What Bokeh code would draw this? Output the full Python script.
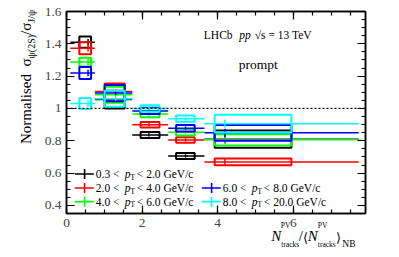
import math
from bokeh.plotting import figure
from bokeh.models import (Range1d, LinearAxis, SingleIntervalTicker, Label,
                          BoxAnnotation, Span, ColumnDataSource,
                          CustomJSTickFormatter, Div)
from bokeh.layouts import column
from bokeh.embed import file_html
from bokeh.resources import INLINE

# ---------------- data ----------------
pt_lo = ["0.3", "2.0", "4.0", "6.0", "8.0"]
pt_hi = ["2.0", "4.0", "6.0", "8.0", "20.0"]
colors = ["#000000", "#ff0000", "#00ff00", "#0000ff", "#00ffff"]

# multiplicity bins (x)
x_lo = [0.10, 0.75, 1.74, 2.69, 3.65]
x_hi = [0.75, 1.74, 2.69, 3.65, 7.73]
x_mean = [0.57, 1.30, 2.18, 3.15, 4.19]
box_lo = [0.34, 1.01, 1.96, 2.90, 3.92]
box_hi = [0.65, 1.54, 2.46, 3.39, 5.95]

# normalised ratio per pT bin
ratio_0 = [1.410, 1.055, 0.836, 0.706, 0.810]
ratio_1 = [1.372, 1.105, 0.899, 0.805, 0.669]
ratio_2 = [1.287, 1.085, 0.965, 0.853, 0.806]
ratio_3 = [1.220, 1.095, 0.985, 0.878, 0.849]
ratio_4 = [1.031, 1.060, 1.000, 0.937, 0.906]

syst_0 = [0.035, 0.055, 0.019, 0.018, 0.053]
syst_1 = [0.037, 0.050, 0.017, 0.017, 0.021]
syst_2 = [0.027, 0.050, 0.020, 0.020, 0.035]
syst_3 = [0.037, 0.050, 0.020, 0.020, 0.049]
syst_4 = [0.034, 0.050, 0.020, 0.020, 0.055]

stat_all = [0.020, 0.012, 0.010, 0.010, 0.025]

ratios = [ratio_0, ratio_1, ratio_2, ratio_3, ratio_4]
systs = [syst_0, syst_1, syst_2, syst_3, syst_4]

# ---------------- figure ----------------
FONT = "Liberation Serif"
W, H = 389, 247
p = figure(width=W, height=H, output_backend="svg", toolbar_location=None,
           x_range=Range1d(0, 7.91), y_range=Range1d(0.35, 1.6),
           min_border_left=66, min_border_right=24, min_border_top=11,
           min_border_bottom=34)
p.grid.visible = False
p.outline_line_color = "black"
p.outline_line_width = 1.5
p.background_fill_color = "white"
p.border_fill_color = "white"

p.xaxis.ticker = SingleIntervalTicker(interval=2, num_minor_ticks=4)
p.yaxis.ticker = SingleIntervalTicker(interval=0.2, num_minor_ticks=4)


def style_axis(ax, labels=True):
    ax.major_tick_in = 8
    ax.major_tick_out = 0
    ax.minor_tick_in = 4
    ax.minor_tick_out = 0
    ax.axis_line_width = 1.5
    ax.major_tick_line_width = 1.2
    ax.minor_tick_line_width = 1.2
    ax.major_label_text_font = FONT
    ax.major_label_text_font_size = "13.5px"
    ax.major_label_standoff = 5 if labels else 0
    ax.axis_label = None
    if not labels:
        ax.formatter = CustomJSTickFormatter(code="return ''")


style_axis(p.xaxis[0])
style_axis(p.yaxis[0])
p.yaxis[0].major_label_overrides = {1.0: "1"}

top = LinearAxis(ticker=SingleIntervalTicker(interval=2, num_minor_ticks=4))
style_axis(top, labels=False)
p.add_layout(top, "above")
right = LinearAxis(ticker=SingleIntervalTicker(interval=0.2, num_minor_ticks=4))
style_axis(right, labels=False)
p.add_layout(right, "right")

# reference line at 1
p.add_layout(Span(location=1.0, dimension="width", line_color="black",
                  line_dash="2 2", line_width=1.3))

# ---------------- marks ----------------
for i in range(5):
    c = colors[i]
    y = ratios[i]
    s = systs[i]
    src = ColumnDataSource(dict(
        xl=x_lo, xh=x_hi, xm=x_mean, bl=box_lo, bh=box_hi, y=y,
        sb=[a - b for a, b in zip(y, s)], st=[a + b for a, b in zip(y, s)],
        eb=[a - b for a, b in zip(y, stat_all)],
        et=[a + b for a, b in zip(y, stat_all)],
    ))
    p.quad(left="bl", right="bh", bottom="sb", top="st", source=src,
           fill_color=None, line_color=c, line_width=2)
    p.segment(x0="xl", x1="xh", y0="y", y1="y", source=src,
              line_color=c, line_width=1.5)
    p.segment(x0="xm", x1="xm", y0="eb", y1="et", source=src,
              line_color=c, line_width=1.5)


# ---------------- annotations (image pixel -> data) ----------------
def dx(px):
    return (px - 67.7) / 37.8


def dy(py):
    return 1 - (py - 109) / 159


def lab(px, py, text, size, style="normal", align="left",
        baseline="middle", angle=0.0):
    p.add_layout(Label(x=dx(px), y=dy(py), text=text, text_font=FONT,
                       text_font_size=size, text_font_style=style,
                       text_align=align, text_baseline=baseline,
                       angle=angle, text_color="black"))


# top-right texts
lab(205, 37, "LHCb", "11.5px")
lab(240.5, 37, "pp", "11.5px", style="italic")
lab(256, 37, "\u221as = 13 TeV", "11.5px")
lab(240, 66, "prompt", "13.5px")

# legend
leg_pos = [(76, 173.5), (76, 187.3), (76, 200.7), (203, 187.3), (203, 200.7)]
for i in range(5):
    lx, ly = leg_pos[i]
    c = colors[i]
    p.add_layout(BoxAnnotation(left=dx(lx), right=dx(lx + 19),
                               bottom=dy(ly + 0.8), top=dy(ly - 0.8),
                               fill_color=c, fill_alpha=1.0, line_color=None))
    p.add_layout(BoxAnnotation(left=dx(lx + 9), right=dx(lx + 10.6),
                               bottom=dy(ly + 5), top=dy(ly - 5),
                               fill_color=c, fill_alpha=1.0, line_color=None))
    tx = lx + 21
    lab(tx, ly, pt_lo[i] + " <", "11.5px")
    lab(tx + 29, ly, "p", "11.5px", style="italic")
    lab(tx + 34.5, ly + 3, "T", "8px")
    lab(tx + 41, ly, "< " + pt_hi[i] + " GeV/c", "11.5px")

# ---------------- axis titles (HTML overlay, real text) ----------------
OX, OY = 1.7, 2.0
ASC = 0.8375  # baseline position within a line-height:1 box


def piece(left, base, text, fs, italic=False):
    t = base - ASC * fs - OY
    st = ("position:absolute;left:%.1fpx;top:%.1fpx;font-size:%.1fpx;"
          "line-height:1;white-space:nowrap;%s" %
          (left - OX, t, fs, "font-style:italic;" if italic else ""))
    return '<span style="%s">%s</span>' % (st, text)


parts = []
parts.append(piece(273, 243.5, "N", 15, True))
parts.append(piece(282.5, 230.5, "PV", 7.5))
parts.append(piece(283, 249, "tracks", 7.5))
parts.append(piece(300.5, 243.5, "/", 15))
parts.append(piece(304.5, 243.5, "\u27e8", 13))
parts.append(piece(309.5, 243.5, "N", 15, True))
parts.append(piece(319.5, 230.5, "PV", 7.5))
parts.append(piece(319.5, 249, "tracks", 7.5))
parts.append(piece(338, 243.5, "\u27e9", 13))
parts.append(piece(344, 250, "NB", 9.5))

sub = '<span style="font-size:10px;vertical-align:-3.5px">%s</span>'
ytext = ("Normalised&nbsp; \u03c3" + sub % "\u03c8(2S)" + "/\u03c3" +
         sub % "J/\u03c8")
yleft = 33.5 - ASC * 15 - OX
ytop = 146 - OY
parts.append('<span style="position:absolute;left:%.1fpx;top:%.1fpx;'
             'font-size:15px;line-height:1;white-space:nowrap;'
             'transform:rotate(-90deg);transform-origin:0 0;">%s</span>'
             % (yleft, ytop, ytext))

html = ('<div style="position:relative;width:%dpx;height:%dpx;'
        'font-family:\'Liberation Serif\';color:#000;pointer-events:none;">'
        % (W, H) + "".join(parts) + "</div>")
overlay = Div(text=html, width=W, height=H, margin=(-H, 0, 0, 0))

layout = column(p, overlay, spacing=0)
open("out.html", "w").write(file_html(layout, INLINE))
